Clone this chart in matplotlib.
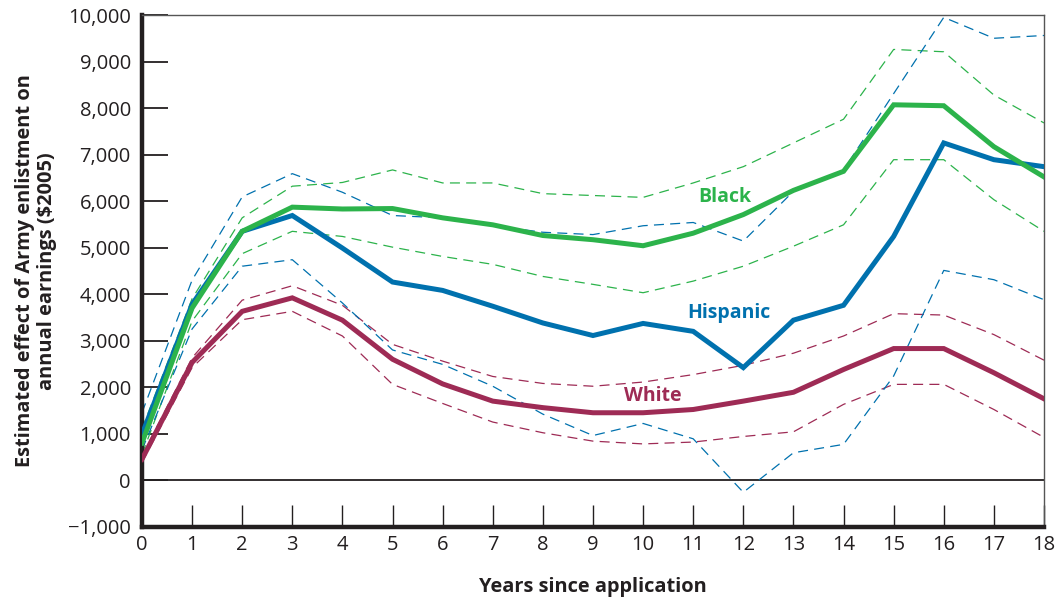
import numpy as np
import matplotlib
matplotlib.use("Agg")
import matplotlib.pyplot as plt

plt.rcParams['font.family'] = ['Open Sans', 'DejaVu Sans']

years = list(range(19))

# estimates and bands (in $2005)
black = [800, 3700, 5350, 5870, 5830, 5840, 5640, 5490, 5260, 5170, 5040, 5310, 5710, 6230, 6640, 8070, 8050, 7170, 6520]
black_hi = [1100, 3900, 5640, 6320, 6400, 6670, 6390, 6390, 6160, 6120, 6080, 6390, 6740, 7250, 7760, 9260, 9210, 8280, 7680]
black_lo = [550, 3420, 4870, 5350, 5240, 5010, 4810, 4640, 4380, 4210, 4030, 4280, 4600, 5030, 5490, 6890, 6890, 6030, 5350]

hispanic = [980, 3780, 5350, 5690, 4990, 4260, 4080, 3740, 3380, 3110, 3370, 3200, 2420, 3440, 3760, 5240, 7250, 6890, 6740]
hispanic_hi = [1450, 4300, 6090, 6590, 6190, 5690, 5640, 5470, 5330, 5280, 5470, 5540, 5140, 6210, 6670, 8310, 9950, 9500, 9560]
hispanic_lo = [650, 3250, 4600, 4740, 3810, 2800, 2490, 2020, 1420, 960, 1220, 890, -260, 590, 770, 2240, 4510, 4310, 3880]

white = [450, 2530, 3630, 3920, 3440, 2600, 2070, 1700, 1560, 1450, 1450, 1520, 1700, 1890, 2380, 2830, 2830, 2310, 1750]
white_hi = [520, 2630, 3870, 4180, 3760, 2920, 2560, 2230, 2080, 2020, 2110, 2270, 2470, 2730, 3100, 3580, 3550, 3130, 2580]
white_lo = [380, 2420, 3450, 3630, 3100, 2060, 1650, 1250, 1020, 840, 780, 820, 940, 1040, 1630, 2060, 2060, 1520, 920]

y_ticks = list(range(-1000, 10001, 1000))

green = '#2cb34b'
blue = '#0071ae'
red = '#9e2b55'
ink = '#231f20'

fig = plt.figure(figsize=(10.57, 6.03), dpi=100)
ax = fig.add_axes([0.1343, 0.1265, 0.8534, 0.8486])

# zero line
ax.axhline(0, color=ink, lw=1.3, zorder=1)

series = [
    (black, black_hi, black_lo, green),
    (white, white_hi, white_lo, red),
    (hispanic, hispanic_hi, hispanic_lo, blue),
]
for est, hi, lo, col in series:
    ax.plot(years, hi, color=col, lw=0.9, dashes=(8, 5), zorder=2)
    ax.plot(years, lo, color=col, lw=0.9, dashes=(8, 5), zorder=2)
for est, hi, lo, col in [series[1], series[2], series[0]]:
    ax.plot(years, est, color=col, lw=3.6, solid_joinstyle='miter', zorder=3)

ax.text(11.63, 6090, 'Black', color=green, fontsize=14, fontweight='bold', ha='center', va='center')
ax.text(11.71, 3600, 'Hispanic', color=blue, fontsize=14, fontweight='bold', ha='center', va='center')
ax.text(10.19, 1820, 'White', color=red, fontsize=14, fontweight='bold', ha='center', va='center')

ax.set_xlim(0, 18)
ax.set_ylim(-1000, 10000)
ax.set_xticks(years)
ax.set_yticks(y_ticks)
ax.set_yticklabels(['\u22121,000' if v < 0 else f'{v:,}' for v in y_ticks])

ax.tick_params(axis='y', direction='in', length=19, width=1.3, color=ink,
               labelsize=14.5, pad=8, labelcolor=ink)
ax.tick_params(axis='x', direction='in', length=16, width=1.0, color=ink,
               labelsize=14.5, pad=6, labelcolor=ink)

for side in ['left', 'bottom']:
    ax.spines[side].set_linewidth(3.2)
    ax.spines[side].set_color(ink)
for side in ['top', 'right']:
    ax.spines[side].set_linewidth(1.0)
    ax.spines[side].set_color('#555555')

ax.set_xlabel('Years since application', fontsize=14.4, fontweight='bold', labelpad=16, color=ink)
ax.set_ylabel('Estimated effect of Army enlistment on\nannual earnings (\\$2005)',
              fontsize=14.4, fontweight='bold', labelpad=8, linespacing=1.15, color=ink)

fig.savefig('out.png', dpi=100)
